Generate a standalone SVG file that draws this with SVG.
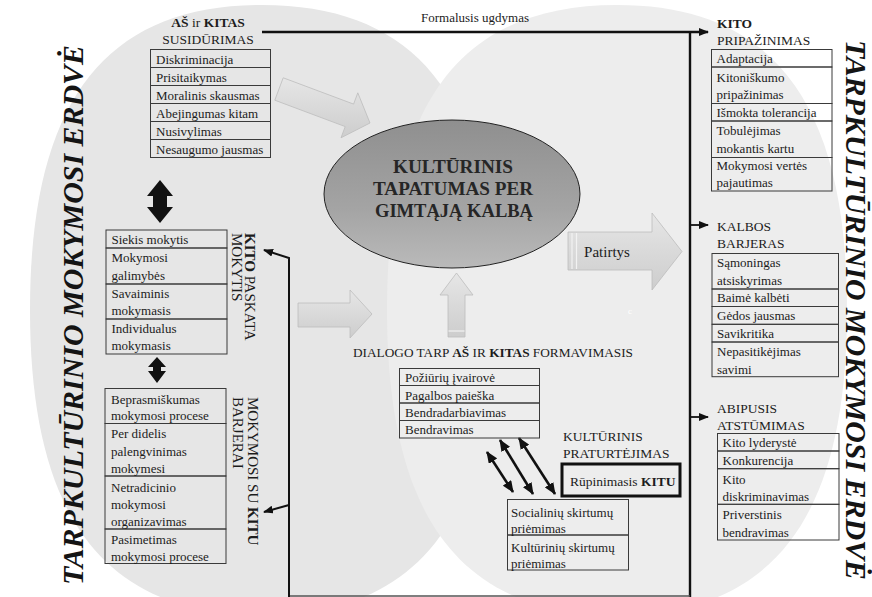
<svg xmlns="http://www.w3.org/2000/svg" width="872" height="597" viewBox="0 0 872 597">
  <style>
    .t { font-family: "Liberation Serif", "DejaVu Serif", "Times New Roman", serif; font-size: 13px; fill: #1c1c1c; }
    .h { font-size: 13.5px; }
    .v { font-size: 15px; }
    .b { font-weight: bold; }
    .side { font-family: "Liberation Serif", "DejaVu Serif", "Times New Roman", serif; font-size: 29.5px; font-weight: bold; font-style: italic; fill: #141414; }
    .core { font-family: "Liberation Serif", "DejaVu Serif", "Times New Roman", serif; font-size: 19px; font-weight: bold; fill: #262626; text-anchor: middle; }
    .box rect { fill: none; stroke: #3a3a3a; stroke-width: 1; }
    .ln { fill: none; stroke: #111; }
    .blk { fill: url(#gBlock); stroke: #bcbcbc; stroke-width: 0.8; }
  </style>
  <defs>
    <marker id="arr" viewBox="0 0 10 8" refX="9" refY="4" markerWidth="10" markerHeight="8" markerUnits="userSpaceOnUse" orient="auto-start-reverse">
      <path d="M0,0 L10,4 L0,8 z" fill="#111"/>
    </marker>
    <marker id="arrBig" viewBox="0 0 12 10" refX="11" refY="5" markerWidth="12" markerHeight="10" markerUnits="userSpaceOnUse" orient="auto-start-reverse">
      <path d="M0,0 L12,5 L0,10 z" fill="#111"/>
    </marker>
    <linearGradient id="gBlock" x1="0" y1="0" x2="0" y2="1">
      <stop offset="0" stop-color="#e6e6e6"/>
      <stop offset="1" stop-color="#cdcdcd"/>
    </linearGradient>
    <linearGradient id="gCore" x1="0" y1="0" x2="0" y2="1">
      <stop offset="0" stop-color="#8f8f8f"/>
      <stop offset="0.6" stop-color="#a4a4a4"/>
      <stop offset="1" stop-color="#bababa"/>
    </linearGradient>
  </defs>

  <rect width="872" height="597" fill="#ffffff"/>

  <!-- two overlapping learning spaces -->
  <g id="spaces">
    <path d="M494,310 C494,517.4 419.8,615 262,615 C104.2,615 30,517.4 30,310 C30,102.6 104.2,5 262,5 C419.8,5 494,102.6 494,310 Z" fill="#e6e6e6"/>
    <path d="M847,310 C847,517.4 773.4,615 617,615 C460.6,615 387,517.4 387,310 C387,102.6 460.6,5 617,5 C773.4,5 847,102.6 847,310 Z" fill="#ededed"/>
  </g>

  <!-- side captions -->
  <text class="side" transform="translate(83,585) rotate(-90)" textLength="540" lengthAdjust="spacingAndGlyphs">TARPKULTŪRINIO MOKYMOSI ERDVĖ</text>
  <text class="side" transform="translate(846,40) rotate(90)" textLength="540" lengthAdjust="spacingAndGlyphs">TARPKULTŪRINIO MOKYMOSI ERDVĖ</text>

  <!-- connectors -->
  <g id="connectors">
    <!-- formal education line -->
    <line class="ln" style="stroke-width:2.4" x1="262" y1="32" x2="708" y2="32" marker-end="url(#arr)"/>
    <line class="ln" style="stroke-width:2.4" x1="690" y1="31" x2="690" y2="597"/>
    <line class="ln" style="stroke-width:1.8" x1="690" y1="225" x2="708" y2="225" marker-end="url(#arr)"/>
    <line class="ln" style="stroke-width:1.8" x1="690" y1="417" x2="708" y2="417" marker-end="url(#arr)"/>
    <!-- frame bottom and left return lines -->
    <line x1="289" y1="596" x2="690" y2="596" stroke="#555" stroke-width="1.5"/>
    <polyline class="ln" style="stroke-width:2" points="289,597 289,258 264,250" marker-end="url(#arr)"/>
    <line class="ln" style="stroke-width:2" x1="289" y1="505" x2="264" y2="512" marker-end="url(#arr)"/>
    <!-- dialogue double arrows -->
    <line class="ln" style="stroke-width:2.6" x1="487" y1="452" x2="513" y2="492" marker-start="url(#arrBig)" marker-end="url(#arrBig)"/>
    <line class="ln" style="stroke-width:2.6" x1="500" y1="440" x2="533" y2="494" marker-start="url(#arrBig)" marker-end="url(#arrBig)"/>
    <line class="ln" style="stroke-width:2.6" x1="519" y1="438" x2="555" y2="494" marker-start="url(#arrBig)" marker-end="url(#arrBig)"/>
    <!-- black block double arrows on the left -->
    <path d="M160,180 L173,196 L167,196 L167,207 L173,207 L160,223 L147,207 L153,207 L153,196 L147,196 Z" fill="#111"/>
    <path d="M157,357 L166,367 L161,367 L161,371 L166,371 L157,383 L148,371 L153,371 L153,367 L148,367 Z" fill="#111"/>
    <!-- grey block arrows -->
    <polygon class="blk" points="274.8,100.2 345.2,126.6 341,137.8 370,123 357.8,92.8 353.6,104.1 283.2,77.8"/>
    <polygon class="blk" points="298,303 350,303 350,290 372,314 350,338 350,327 298,327"/>
    <polygon class="blk" points="448,337 448,295 440,295 456.5,273 473,295 465,295 465,337"/>
    <line x1="448.5" y1="331" x2="464.5" y2="331" stroke="#f2f2f2" stroke-width="1.2"/>
    <polygon class="blk" points="568,232 652,232 652,213 682,251.5 652,290 652,270 568,270"/>
    <line x1="572" y1="233" x2="572" y2="269" stroke="#f2f2f2" stroke-width="1.2"/>
    <line x1="576.5" y1="233" x2="576.5" y2="269" stroke="#f2f2f2" stroke-width="1.2"/>
    <text class="t" style="font-size:15px" x="607" y="257" text-anchor="middle">Patirtys</text>
    <text class="t" style="font-size:9px;fill:#ffffff" x="628" y="314">c</text>
    <text class="t" x="475" y="22" text-anchor="middle">Formalusis ugdymas</text>
  </g>

  <!-- central node -->
  <g id="node-core">
    <ellipse cx="452" cy="194" rx="128" ry="74" fill="url(#gCore)" stroke="#222" stroke-width="1"/>
    <text class="core" x="453" y="173" textLength="120" lengthAdjust="spacingAndGlyphs">KULTŪRINIS</text>
    <text class="core" x="453" y="195" textLength="160" lengthAdjust="spacingAndGlyphs">TAPATUMAS PER</text>
    <text class="core" x="454" y="217" textLength="158" lengthAdjust="spacingAndGlyphs">GIMTĄJĄ KALBĄ</text>
  </g>

  <!-- encounter of self and other -->
  <g id="node-encounter" class="box">
    <text class="t h" x="208" y="27" text-anchor="middle"><tspan class="b">AŠ</tspan> ir <tspan class="b">KITAS</tspan></text>
    <text class="t h" x="208" y="43.5" text-anchor="middle">SUSIDŪRIMAS</text>
    <rect x="150.5" y="49.5" width="120" height="18"/>
    <rect x="150.5" y="67.5" width="120" height="18"/>
    <rect x="150.5" y="85.5" width="120" height="18"/>
    <rect x="150.5" y="103.5" width="120" height="18"/>
    <rect x="150.5" y="121.5" width="120" height="18"/>
    <rect x="150.5" y="139.5" width="120" height="18"/>
    <text class="t" x="156" y="64">Diskriminacija</text>
    <text class="t" x="156" y="82">Prisitaikymas</text>
    <text class="t" x="156" y="100">Moralinis skausmas</text>
    <text class="t" x="156" y="118">Abejingumas kitam</text>
    <text class="t" x="156" y="136">Nusivylimas</text>
    <text class="t" x="156" y="154">Nesaugumo jausmas</text>
  </g>

  <!-- encouragement by the other -->
  <g id="node-encouragement" class="box">
    <rect x="106" y="230" width="121" height="18"/>
    <rect x="106" y="248" width="121" height="36"/>
    <rect x="106" y="284" width="121" height="35"/>
    <rect x="106" y="319" width="121" height="35"/>
    <text class="t" x="111.5" y="243.5">Siekis mokytis</text>
    <text class="t" x="111.5" y="262">Mokymosi</text>
    <text class="t" x="111.5" y="279.5">galimybės</text>
    <text class="t" x="111.5" y="298">Savaiminis</text>
    <text class="t" x="111.5" y="315">mokymasis</text>
    <text class="t" x="111.5" y="333">Individualus</text>
    <text class="t" x="111.5" y="350">mokymasis</text>
    <text class="t v" transform="translate(245,233) rotate(90)"><tspan class="b">KITO</tspan> PASKATA</text>
    <text class="t v" transform="translate(232,233) rotate(90)">MOKYTIS</text>
  </g>

  <!-- barriers of learning with the other -->
  <g id="node-barriers" class="box">
    <rect x="105" y="388.5" width="121" height="35"/>
    <rect x="105" y="423.5" width="121" height="52.5"/>
    <rect x="105" y="476" width="121" height="53"/>
    <rect x="105" y="529" width="121" height="34.5"/>
    <text class="t" x="111" y="403.5">Beprasmiškumas</text>
    <text class="t" x="111" y="420">mokymosi procese</text>
    <text class="t" x="111" y="438">Per didelis</text>
    <text class="t" x="111" y="456">palengvinimas</text>
    <text class="t" x="111" y="473">mokymesi</text>
    <text class="t" x="111" y="491.5">Netradicinio</text>
    <text class="t" x="111" y="509">mokymosi</text>
    <text class="t" x="111" y="526">organizavimas</text>
    <text class="t" x="111" y="543.5">Pasimetimas</text>
    <text class="t" x="111" y="560.5">mokymosi procese</text>
    <text class="t v" transform="translate(248,397) rotate(90)">MOKYMOSI SU <tspan class="b">KITU</tspan></text>
    <text class="t v" transform="translate(233,397) rotate(90)">BARJERAI</text>
  </g>

  <!-- dialogue formation -->
  <g id="node-dialogue" class="box">
    <text class="t" x="353" y="357" textLength="280" lengthAdjust="spacingAndGlyphs">DIALOGO TARP <tspan class="b">AŠ</tspan> IR <tspan class="b">KITAS</tspan> FORMAVIMASIS</text>
    <rect x="399.5" y="368.5" width="140" height="17"/>
    <rect x="399.5" y="385.5" width="140" height="17.5"/>
    <rect x="399.5" y="403" width="140" height="17.5"/>
    <rect x="399.5" y="420.5" width="140" height="17.5"/>
    <text class="t" x="405" y="382">Požiūrių įvairovė</text>
    <text class="t" x="405" y="399.5">Pagalbos paieška</text>
    <text class="t" x="405" y="417">Bendradarbiavimas</text>
    <text class="t" x="405" y="434">Bendravimas</text>
  </g>

  <!-- cultural enrichment -->
  <g id="node-enrichment" class="box">
    <text class="t h" x="563" y="441">KULTŪRINIS</text>
    <text class="t h" x="563" y="458">PRATURTĖJIMAS</text>
    <rect x="562" y="464" width="118" height="32" style="stroke:#111;stroke-width:3"/>
    <text class="t h" x="570" y="486">Rūpinimasis <tspan class="b">KITU</tspan></text>
  </g>

  <!-- acceptance of differences -->
  <g id="node-acceptance" class="box">
    <rect x="507.5" y="499.5" width="121" height="35.5"/>
    <rect x="507.5" y="535" width="121" height="35"/>
    <text class="t" x="511" y="516.5">Socialinių skirtumų</text>
    <text class="t" x="511" y="532.5">priėmimas</text>
    <text class="t" x="511" y="551.5">Kultūrinių skirtumų</text>
    <text class="t" x="511" y="568">priėmimas</text>
  </g>

  <!-- recognition of the other -->
  <g id="node-recognition" class="box">
    <text class="t h b" x="717" y="28">KITO</text>
    <text class="t h" x="717" y="45">PRIPAŽINIMAS</text>
    <rect x="711.5" y="49.5" width="120.5" height="17.5"/>
    <rect x="711.5" y="67" width="120.5" height="36.5"/>
    <rect x="711.5" y="103.5" width="120.5" height="17.5"/>
    <rect x="711.5" y="121" width="120.5" height="36.5"/>
    <rect x="711.5" y="157.5" width="120.5" height="33.5"/>
    <text class="t" x="716.5" y="63">Adaptacija</text>
    <text class="t" x="716.5" y="81.5">Kitoniškumo</text>
    <text class="t" x="716.5" y="99">pripažinimas</text>
    <text class="t" x="716.5" y="117">Išmokta tolerancija</text>
    <text class="t" x="716.5" y="135">Tobulėjimas</text>
    <text class="t" x="716.5" y="153">mokantis kartu</text>
    <text class="t" x="716.5" y="169.5">Mokymosi vertės</text>
    <text class="t" x="716.5" y="187">pajautimas</text>
  </g>

  <!-- language barrier -->
  <g id="node-language" class="box">
    <text class="t h" x="717" y="231">KALBOS</text>
    <text class="t h" x="717" y="248">BARJERAS</text>
    <rect x="712" y="253.5" width="126.5" height="35.5"/>
    <rect x="712" y="289" width="126.5" height="17.5"/>
    <rect x="712" y="306.5" width="126.5" height="17.8"/>
    <rect x="712" y="324.3" width="126.5" height="17.7"/>
    <rect x="712" y="342" width="126.5" height="34.7"/>
    <text class="t" x="717" y="267">Sąmoningas</text>
    <text class="t" x="717" y="284.5">atsiskyrimas</text>
    <text class="t" x="717" y="302">Baimė kalbėti</text>
    <text class="t" x="717" y="319.5">Gėdos jausmas</text>
    <text class="t" x="717" y="337.5">Savikritika</text>
    <text class="t" x="717" y="356">Nepasitikėjimas</text>
    <text class="t" x="717" y="373.5">savimi</text>
  </g>

  <!-- mutual rejection -->
  <g id="node-rejection" class="box">
    <text class="t h" x="717" y="413">ABIPUSIS</text>
    <text class="t h" x="717" y="430">ATSTŪMIMAS</text>
    <rect x="717.5" y="433.5" width="121.5" height="17.5"/>
    <rect x="717.5" y="451" width="121.5" height="17.7"/>
    <rect x="717.5" y="468.7" width="121.5" height="35.6"/>
    <rect x="717.5" y="504.3" width="121.5" height="35.7"/>
    <text class="t" x="722.5" y="447">Kito lyderystė</text>
    <text class="t" x="722.5" y="464.5">Konkurencija</text>
    <text class="t" x="722.5" y="483.5">Kito</text>
    <text class="t" x="722.5" y="501">diskriminavimas</text>
    <text class="t" x="722.5" y="519">Priverstinis</text>
    <text class="t" x="722.5" y="536.5">bendravimas</text>
  </g>
</svg>
